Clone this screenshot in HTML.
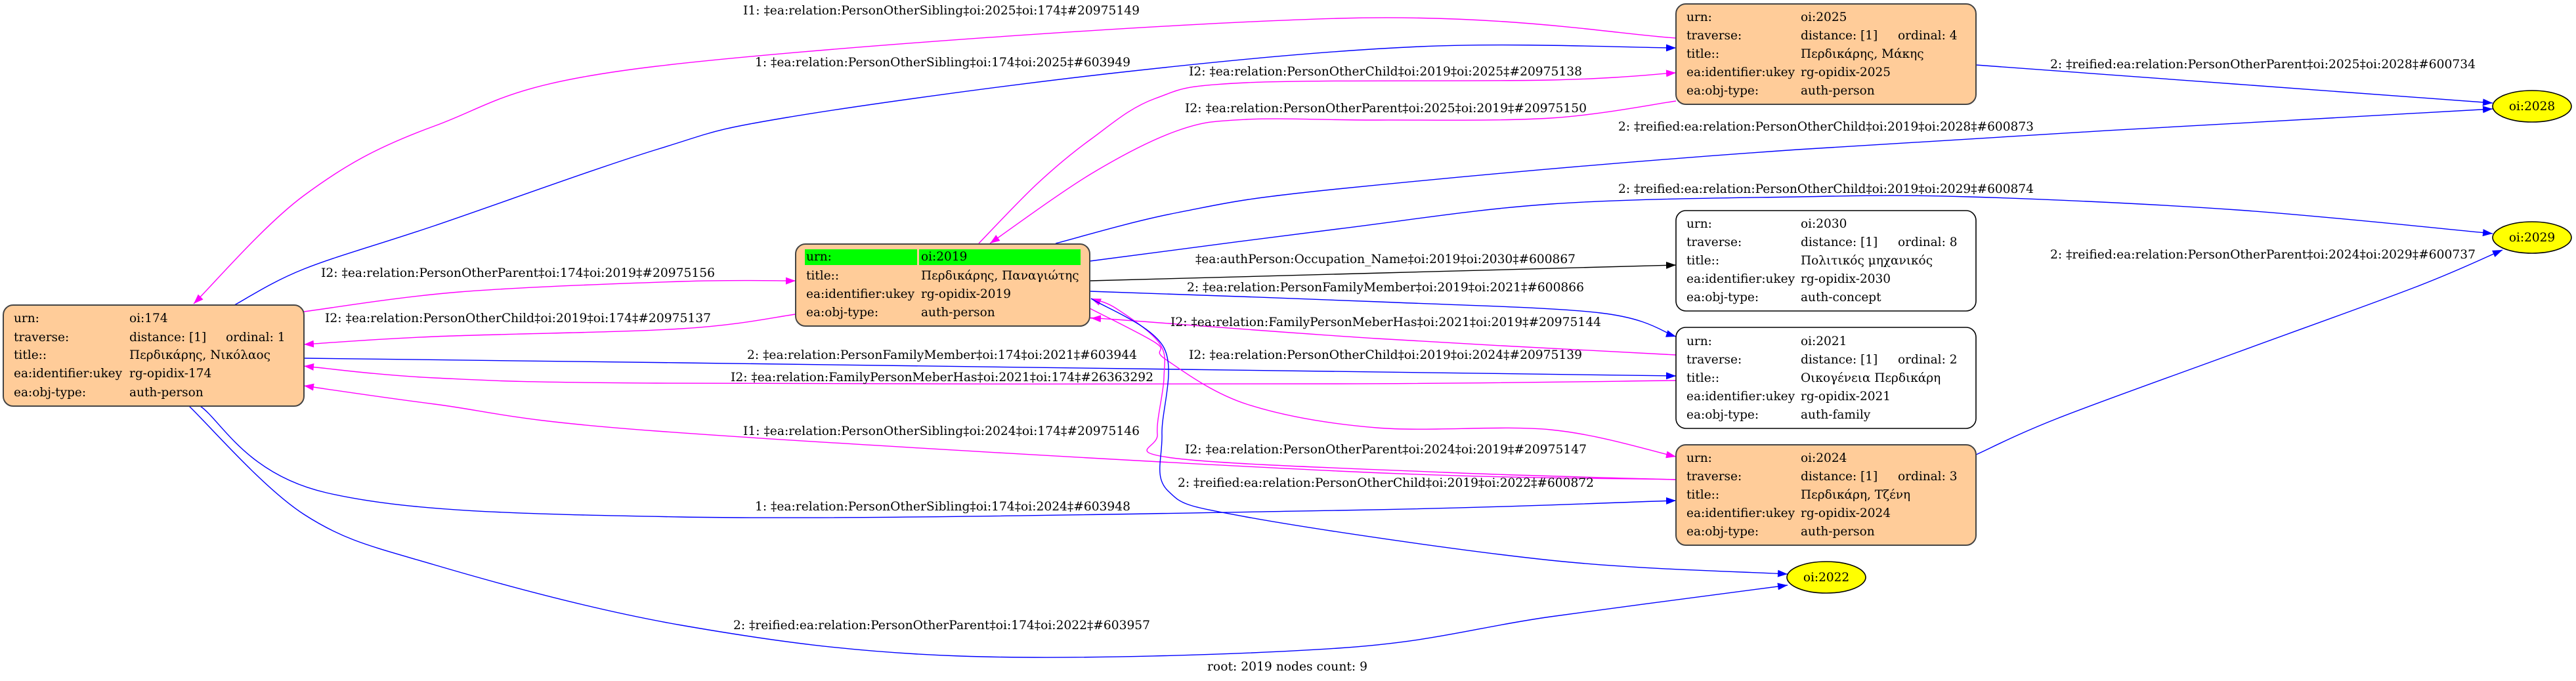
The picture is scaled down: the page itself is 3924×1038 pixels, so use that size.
<!DOCTYPE html>
<html><head><meta charset="utf-8">
<style>
html,body{margin:0;padding:0;background:#fff;}
svg{display:block;}
text{font-family:"DejaVu Serif","Liberation Serif",serif;font-size:18.5px;fill:#000;}
</style></head>
<body>
<svg id="s" width="3924" height="1038" viewBox="0 0 3924 1038" xmlns="http://www.w3.org/2000/svg">
<defs>
<marker id="am" markerUnits="userSpaceOnUse" markerWidth="16" markerHeight="12" refX="15" refY="5.5" orient="auto"><path d="M0,0 L15,5.5 L0,11 z" fill="#ff00ff"/></marker>
<marker id="ab" markerUnits="userSpaceOnUse" markerWidth="16" markerHeight="12" refX="15" refY="5.5" orient="auto"><path d="M0,0 L15,5.5 L0,11 z" fill="#0000ff"/></marker>
<marker id="ak" markerUnits="userSpaceOnUse" markerWidth="16" markerHeight="12" refX="15" refY="5.5" orient="auto"><path d="M0,0 L15,5.5 L0,11 z" fill="#000"/></marker>
</defs>
<g id="edges" fill="none" stroke-width="1.4"></g>

<!-- nodes -->
<rect x="5" y="465" width="458" height="154" rx="15" fill="#ffcc99" stroke="#444" stroke-width="2"/>
<rect x="1212" y="372" width="448" height="125" rx="15" fill="#ffcc99" stroke="#444" stroke-width="2"/>
<rect x="1226" y="380" width="171" height="24" fill="#00ff00"/>
<rect x="1400" y="380" width="246" height="24" fill="#00ff00"/>
<rect x="2553" y="6" width="457" height="153" rx="15" fill="#ffcc99" stroke="#444" stroke-width="2"/>
<rect x="2553" y="321" width="457" height="153" rx="15" fill="#fff" stroke="#000" stroke-width="1.6"/>
<rect x="2553" y="499" width="457" height="154" rx="15" fill="#fff" stroke="#000" stroke-width="1.6"/>
<rect x="2553" y="678" width="457" height="153" rx="15" fill="#ffcc99" stroke="#444" stroke-width="2"/>
<ellipse cx="3857" cy="162" rx="60" ry="24" fill="#ffff00" stroke="#000" stroke-width="1.6"/>
<ellipse cx="3857" cy="362" rx="60" ry="24" fill="#ffff00" stroke="#000" stroke-width="1.6"/>
<ellipse cx="2782" cy="880" rx="60" ry="24" fill="#ffff00" stroke="#000" stroke-width="1.6"/>
<text x="3857" y="168" text-anchor="middle">oi:2028</text>
<text x="3857" y="368" text-anchor="middle">oi:2029</text>
<text x="2782" y="886" text-anchor="middle">oi:2022</text>

<!-- node 174 -->
<g>
<text x="21" y="491">urn:</text><text x="197" y="491">oi:174</text>
<text x="21" y="520">traverse:</text><text x="197" y="520">distance: [1]</text><text x="344" y="520">ordinal: 1</text>
<text x="21" y="547">title::</text><text x="197" y="547">Περδικάρης, Νικόλαος</text>
<text x="21" y="575">ea:identifier:ukey</text><text x="197" y="575">rg-opidix-174</text>
<text x="21" y="604">ea:obj-type:</text><text x="197" y="604">auth-person</text>
</g>
<!-- node 2019 -->
<g>
<text x="1228" y="397">urn:</text><text x="1403" y="397">oi:2019</text>
<text x="1228" y="426">title::</text><text x="1403" y="426">Περδικάρης, Παναγιώτης</text>
<text x="1228" y="454">ea:identifier:ukey</text><text x="1403" y="454">rg-opidix-2019</text>
<text x="1228" y="482">ea:obj-type:</text><text x="1403" y="482">auth-person</text>
</g>
<!-- 2025 -->
<g>
<text x="2569" y="32">urn:</text><text x="2743" y="32">oi:2025</text>
<text x="2569" y="60">traverse:</text><text x="2743" y="60">distance: [1]</text><text x="2891" y="60">ordinal: 4</text>
<text x="2569" y="88">title::</text><text x="2743" y="88">Περδικάρης, Μάκης</text>
<text x="2569" y="116">ea:identifier:ukey</text><text x="2743" y="116">rg-opidix-2025</text>
<text x="2569" y="144">ea:obj-type:</text><text x="2743" y="144">auth-person</text>
</g>
<!-- 2030 -->
<g>
<text x="2569" y="347">urn:</text><text x="2743" y="347">oi:2030</text>
<text x="2569" y="375">traverse:</text><text x="2743" y="375">distance: [1]</text><text x="2891" y="375">ordinal: 8</text>
<text x="2569" y="403">title::</text><text x="2743" y="403">Πολιτικός μηχανικός</text>
<text x="2569" y="431">ea:identifier:ukey</text><text x="2743" y="431">rg-opidix-2030</text>
<text x="2569" y="459">ea:obj-type:</text><text x="2743" y="459">auth-concept</text>
</g>
<!-- 2021 -->
<g>
<text x="2569" y="526">urn:</text><text x="2743" y="526">oi:2021</text>
<text x="2569" y="554">traverse:</text><text x="2743" y="554">distance: [1]</text><text x="2891" y="554">ordinal: 2</text>
<text x="2569" y="582">title::</text><text x="2743" y="582">Οικογένεια Περδικάρη</text>
<text x="2569" y="610">ea:identifier:ukey</text><text x="2743" y="610">rg-opidix-2021</text>
<text x="2569" y="638">ea:obj-type:</text><text x="2743" y="638">auth-family</text>
</g>
<!-- 2024 -->
<g>
<text x="2569" y="704">urn:</text><text x="2743" y="704">oi:2024</text>
<text x="2569" y="732">traverse:</text><text x="2743" y="732">distance: [1]</text><text x="2891" y="732">ordinal: 3</text>
<text x="2569" y="760">title::</text><text x="2743" y="760">Περδικάρη, Τζένη</text>
<text x="2569" y="788">ea:identifier:ukey</text><text x="2743" y="788">rg-opidix-2024</text>
<text x="2569" y="816">ea:obj-type:</text><text x="2743" y="816">auth-person</text>
</g>

<!-- edge labels -->
<g lengthAdjust="spacingAndGlyphs">
<text x="1132" y="22" textLength="604" lengthAdjust="spacingAndGlyphs">I1: ‡ea:relation:PersonOtherSibling‡oi:2025‡oi:174‡#20975149</text>
<text x="1150" y="101" textLength="572" lengthAdjust="spacingAndGlyphs">1: ‡ea:relation:PersonOtherSibling‡oi:174‡oi:2025‡#603949</text>
<text x="1811" y="115" textLength="599" lengthAdjust="spacingAndGlyphs">I2: ‡ea:relation:PersonOtherChild‡oi:2019‡oi:2025‡#20975138</text>
<text x="1805" y="171" textLength="612" lengthAdjust="spacingAndGlyphs">I2: ‡ea:relation:PersonOtherParent‡oi:2025‡oi:2019‡#20975150</text>
<text x="3123" y="104" textLength="648" lengthAdjust="spacingAndGlyphs">2: ‡reified:ea:relation:PersonOtherParent‡oi:2025‡oi:2028‡#600734</text>
<text x="2465" y="199" textLength="633" lengthAdjust="spacingAndGlyphs">2: ‡reified:ea:relation:PersonOtherChild‡oi:2019‡oi:2028‡#600873</text>
<text x="2465" y="294" textLength="633" lengthAdjust="spacingAndGlyphs">2: ‡reified:ea:relation:PersonOtherChild‡oi:2019‡oi:2029‡#600874</text>
<text x="1821" y="401" textLength="579" lengthAdjust="spacingAndGlyphs">‡ea:authPerson:Occupation_Name‡oi:2019‡oi:2030‡#600867</text>
<text x="1808" y="444" textLength="605" lengthAdjust="spacingAndGlyphs">2: ‡ea:relation:PersonFamilyMember‡oi:2019‡oi:2021‡#600866</text>
<text x="3123" y="394" textLength="648" lengthAdjust="spacingAndGlyphs">2: ‡reified:ea:relation:PersonOtherParent‡oi:2024‡oi:2029‡#600737</text>
<text x="489" y="422" textLength="600" lengthAdjust="spacingAndGlyphs">I2: ‡ea:relation:PersonOtherParent‡oi:174‡oi:2019‡#20975156</text>
<text x="495" y="491" textLength="588" lengthAdjust="spacingAndGlyphs">I2: ‡ea:relation:PersonOtherChild‡oi:2019‡oi:174‡#20975137</text>
<text x="1783" y="497" textLength="656" lengthAdjust="spacingAndGlyphs">I2: ‡ea:relation:FamilyPersonMeberHas‡oi:2021‡oi:2019‡#20975144</text>
<text x="1138" y="547" textLength="594" lengthAdjust="spacingAndGlyphs">2: ‡ea:relation:PersonFamilyMember‡oi:174‡oi:2021‡#603944</text>
<text x="1811" y="547" textLength="599" lengthAdjust="spacingAndGlyphs">I2: ‡ea:relation:PersonOtherChild‡oi:2019‡oi:2024‡#20975139</text>
<text x="1113" y="581" textLength="644" lengthAdjust="spacingAndGlyphs">I2: ‡ea:relation:FamilyPersonMeberHas‡oi:2021‡oi:174‡#26363292</text>
<text x="1132" y="663" textLength="604" lengthAdjust="spacingAndGlyphs">I1: ‡ea:relation:PersonOtherSibling‡oi:2024‡oi:174‡#20975146</text>
<text x="1805" y="691" textLength="612" lengthAdjust="spacingAndGlyphs">I2: ‡ea:relation:PersonOtherParent‡oi:2024‡oi:2019‡#20975147</text>
<text x="1794" y="742" textLength="634" lengthAdjust="spacingAndGlyphs">2: ‡reified:ea:relation:PersonOtherChild‡oi:2019‡oi:2022‡#600872</text>
<text x="1150" y="778" textLength="572" lengthAdjust="spacingAndGlyphs">1: ‡ea:relation:PersonOtherSibling‡oi:174‡oi:2024‡#603948</text>
<text x="1117" y="959" textLength="635" lengthAdjust="spacingAndGlyphs">2: ‡reified:ea:relation:PersonOtherParent‡oi:174‡oi:2022‡#603957</text>
<text x="1839" y="1022" textLength="244" lengthAdjust="spacingAndGlyphs">root: 2019 nodes count: 9</text>
</g>
</svg>
<script>
(function(){
var M='#ff00ff',B='#0000ff',K='#000000';
var E=[
[M,[[2553,58],[2038,28],[1000,101],[662,192],[463,298],[295,463]]],
[B,[[357,465],[463,410],[662,344],[1000,228],[1199,179],[1700,111],[2163,71],[2553,73]]],
[M,[[463,475],[700,445],[1038,429],[1212,428]]],
[M,[[1212,479],[1038,501],[662,513],[463,525]]],
[B,[[463,546],[1038,553],[2553,573]]],
[M,[[2553,580],[2038,585],[1000,584],[662,576],[463,558]]],
[M,[[2553,731],[2038,718],[1000,657],[662,616],[463,588]]],
[B,[[305,619],[497,751],[1038,788],[2038,778],[2553,763]]],
[B,[[288,619],[463,784],[662,861],[1038,953],[1463,1000],[2038,988],[2362,940],[2723,892]]],
[M,[[1491,371],[1580,280],[1662,212],[1760,150],[1899,126],[2362,122],[2553,111]]],
[M,[[2553,154],[2362,180],[2100,183],[1899,182],[1794,199],[1662,265],[1508,371]]],
[B,[[1608,371],[1794,324],[2038,288],[2738,228],[3797,166]]],
[B,[[3010,99],[3797,157]]],
[B,[[1660,398],[2038,349],[2362,311],[2738,300],[3000,300],[3408,320],[3797,356]]],
[K,[[1660,428],[2553,404]]],
[B,[[1660,444],[2100,460],[2438,477],[2553,513]]],
[M,[[2553,541],[2097,516],[1700,487],[1662,485]]],
[M,[[1660,470],[1761,523],[1776,548],[1899,616],[2097,652],[2362,655],[2553,696]]],
[M,[[2553,731],[2200,720],[1786,698],[1763,662],[1773,576],[1766,523],[1700,470],[1662,455]]],
[B,[[1662,455],[1773,530],[1770,662],[1779,748],[1899,788],[2362,854],[2723,875]]],
[B,[[3010,693],[3136,637],[3408,537],[3681,437],[3812,381]]]
];
var g=document.getElementById('edges'),ns='http://www.w3.org/2000/svg';
E.forEach(function(e){
 var p=e[1],d='M'+p[0][0]+','+p[0][1];
 for(var i=0;i<p.length-1;i++){
  var p0=p[i-1]||p[i],p1=p[i],p2=p[i+1],p3=p[i+2]||p2;
  var c1x=p1[0]+(p2[0]-p0[0])/6,c1y=p1[1]+(p2[1]-p0[1])/6;
  var c2x=p2[0]-(p3[0]-p1[0])/6,c2y=p2[1]-(p3[1]-p1[1])/6;
  d+=' C'+c1x.toFixed(1)+','+c1y.toFixed(1)+' '+c2x.toFixed(1)+','+c2y.toFixed(1)+' '+p2[0]+','+p2[1];
 }
 var el=document.createElementNS(ns,'path');
 el.setAttribute('d',d);el.setAttribute('stroke',e[0]);
 el.setAttribute('marker-end','url(#'+(e[0]==M?'am':e[0]==B?'ab':'ak')+')');
 g.appendChild(el);
});
})();
</script>
</body></html>
